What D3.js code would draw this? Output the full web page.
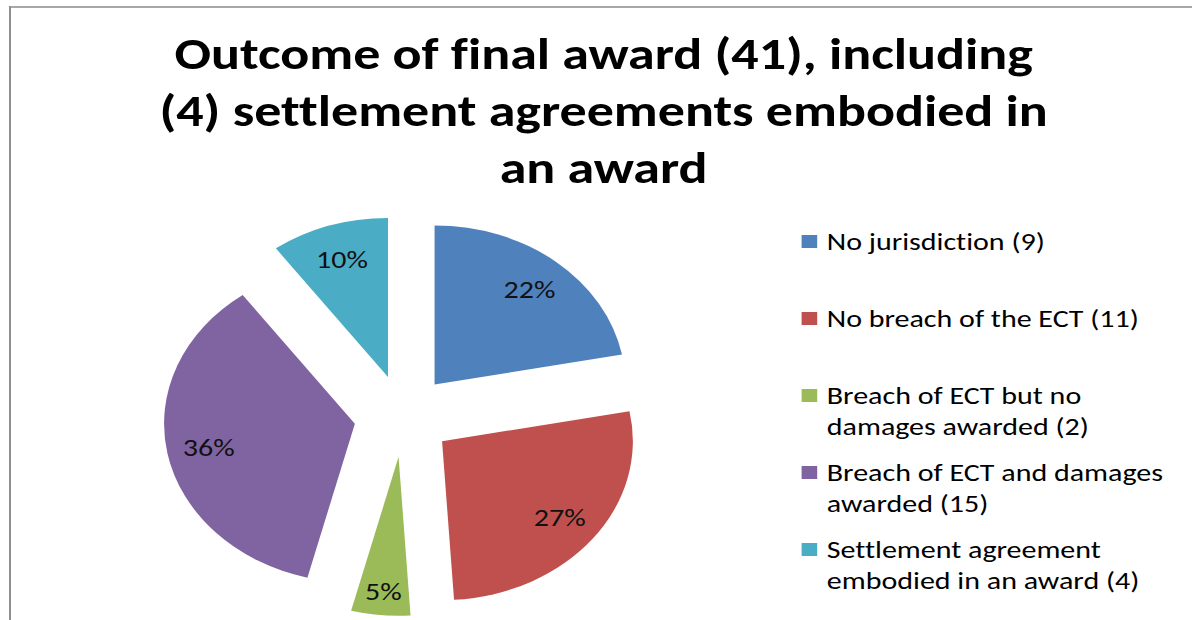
<!DOCTYPE html>
<html><head><meta charset="utf-8">
<script src="https://cdn.jsdelivr.net/npm/d3@7"></script>
<style>
  body { margin: 0; background: #fff; }
  svg text { font-family: Carlito, Calibri, Lato, sans-serif; font-variant-ligatures: none; font-feature-settings: "liga" 0; }
</style>
</head><body>
<svg id="chart" width="1192" height="620"></svg>
<script>
// Outcome categories, in clockwise order starting at 12 o'clock
const categories = [
  "No jurisdiction",
  "No breach of the ECT",
  "Breach of ECT but no damages awarded",
  "Breach of ECT and damages awarded",
  "Settlement agreement embodied in an award"
];
const counts = [9, 11, 2, 15, 4];
const percentLabels = [22, 27, 5, 36, 10];
const colors = ["#4F81BD", "#C0504D", "#9BBB59", "#8064A2", "#4BACC6"];
const titleLines = [
  "Outcome of final award (41), including",
  "(4) settlement agreements embodied in",
  "an award"
];

const W = 1192, H = 620;
const svg = d3.select("#chart");

// chart frame (top and left edge)
svg.append("line").attr("x1", 10).attr("x2", W).attr("y1", 7).attr("y2", 7)
  .attr("stroke", "#a8a8a8").attr("stroke-width", 2);
svg.append("line").attr("x1", 10).attr("x2", 10).attr("y1", 6).attr("y2", H)
  .attr("stroke", "#8f8f8f").attr("stroke-width", 2);

// the whole chart area is drawn in a horizontally widened frame
const sx = 1.2;
const g = svg.append("g").attr("transform", `scale(${sx},1)`);

// title
const title = g.append("text")
  .attr("text-anchor", "middle")
  .style("font-size", "45px").style("font-weight", "bold").attr("fill", "#000");
titleLines.forEach((t, i) => {
  title.append("tspan").attr("x", 503).attr("y", 69 + i * 57).text(t);
});

// exploded pie
const cx = 336, cy = 416, R = 159, explode = 41;
const pie = d3.pie().sort(null).value(d => d.pct);
const arc = d3.arc().innerRadius(0).outerRadius(R);
const data = categories.map((c, i) => ({ name: c, count: counts[i], pct: percentLabels[i], color: colors[i] }));
const arcs = pie(data);

const pieG = g.append("g").attr("transform", `translate(${cx},${cy})`);
const slices = pieG.selectAll("g.slice").data(arcs).join("g")
  .attr("class", "slice")
  .attr("transform", d => {
    const mid = (d.startAngle + d.endAngle) / 2;
    return `translate(${explode * Math.sin(mid)},${-explode * Math.cos(mid)})`;
  });

slices.append("path").attr("d", arc).attr("fill", d => d.data.color);

slices.append("text")
  .attr("text-anchor", "middle")
  .attr("dy", "0.35em")
  .attr("transform", d => {
    const mid = (d.startAngle + d.endAngle) / 2;
    // narrow slices get their label pushed further out
    const k = (d.endAngle - d.startAngle) < 0.5 ? 0.85 : 0.78;
    return `translate(${k * R * Math.sin(mid)},${-k * R * Math.cos(mid)})`;
  })
  .style("font-size", "25px").attr("fill", "#111")
  .text(d => d.data.pct + "%");

// legend
const legX = 668, legY = 250, legStep = 77, lineH = 31, wrapW = 296;
const legend = g.append("g");
data.forEach((d, i) => {
  const y0 = legY + i * legStep;
  legend.append("rect").attr("x", legX).attr("y", y0 - 15)
    .attr("width", 13).attr("height", 13).attr("fill", d.color);
  const text = legend.append("text").attr("x", legX + 21).attr("y", y0)
    .style("font-size", "25px").attr("fill", "#000");
  // word wrap the entry to the legend width
  const words = `${d.name} (${d.count})`.split(" ");
  let line = [], lineNo = 0;
  let tspan = text.append("tspan").attr("x", legX + 21).attr("y", y0);
  words.forEach(w => {
    line.push(w);
    tspan.text(line.join(" "));
    if (tspan.node().getComputedTextLength() > wrapW && line.length > 1) {
      line.pop();
      tspan.text(line.join(" "));
      line = [w];
      lineNo++;
      tspan = text.append("tspan").attr("x", legX + 21).attr("y", y0 + lineNo * lineH).text(w);
    }
  });
});
</script>
</body></html>
